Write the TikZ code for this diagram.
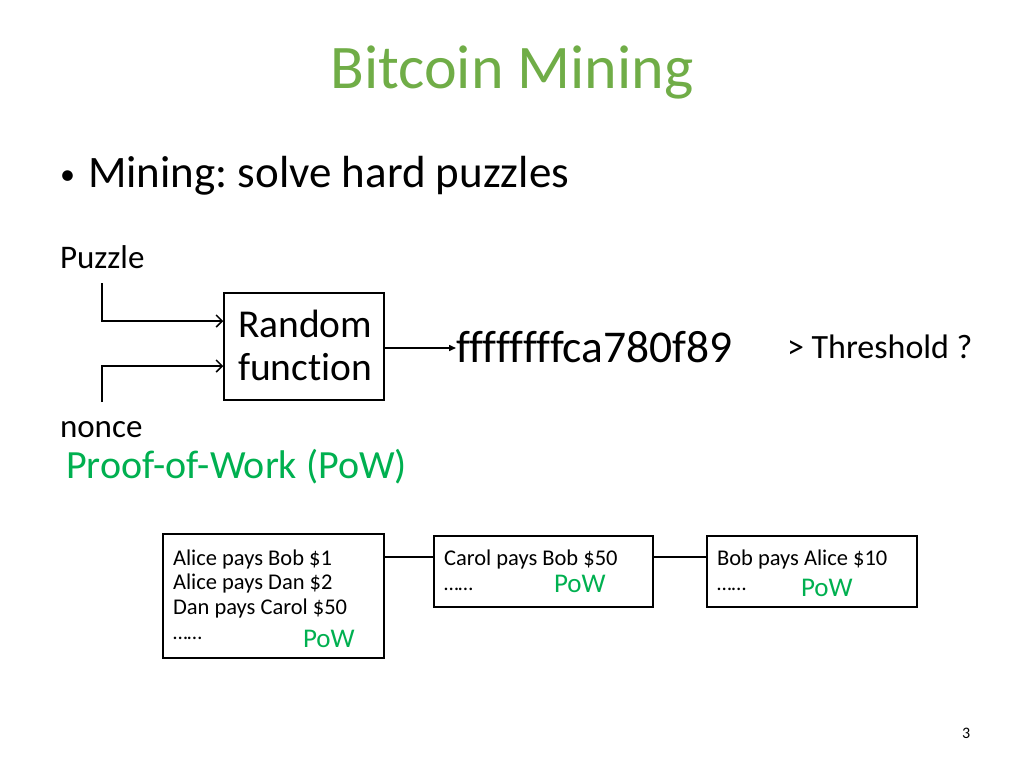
\documentclass[tikz,border=0pt]{standalone}
\usepackage{fontspec}
\setmainfont{Carlito}[Ligatures=NoCommon]
\usetikzlibrary{arrows.meta}
\definecolor{titlegreen}{RGB}{112,173,71}
\definecolor{powgreen}{RGB}{0,176,80}
\frenchspacing
\begin{document}
\begin{tikzpicture}[x=1pt,y=-1pt,
  txt/.style={anchor=base west,inner sep=0pt,outer sep=0pt},
  dots/.style={txt,text height=3pt,text depth=0pt,font=\fontsize{21}{21}\selectfont},
  blk/.style={draw,line width=1.5pt},
  ln/.style={line width=1.5pt},
  fs/.style={font=\fontsize{#1}{#1}\selectfont}]
\useasboundingbox[fill=white] (0,0) rectangle (1024,768);
\node[txt,anchor=base,fs=62,text=titlegreen] (title) at (512,88) {Bitcoin Mining};
\node[txt,fs=30] (bul) at (60,184) {\textbullet};
\node[txt,fs=45] (bt) at (88,187) {Mining: solve hard puzzles};
\node[txt,fs=33] (puz) at (60,268) {Puzzle};
\node[txt,fs=33] (non) at (60,437) {nonce};
\node[draw,line width=1.5pt,minimum width=160pt,minimum height=107pt,inner sep=0pt] (rf) at (304,346.5) {};
\node[txt,fs=39.5] (rf1) at (238,337) {Random};
\node[txt,fs=39.5] (rf2) at (238,380) {function};
\coordinate (pin) at (102,283);
\coordinate (nin) at (102,402);
\draw[ln,-{Straight Barb[length=6pt,width=12pt]}] (pin) |- (rf.west |- 0,321);
\draw[ln,-{Straight Barb[length=6pt,width=12pt]}] (nin) |- (rf.west |- 0,366);
\node[txt,fs=45.5] (hash) at (456,362) {ffffffffca780f89};
\draw[ln,-{Triangle[length=7pt,width=6pt]}] (rf.east |- 0,348) -- (hash.west |- 0,348);
\node[txt,fs=34] (thr) at (787,358) {> Threshold ?};
\node[txt,fs=40,text=powgreen] (pow) at (66,478) {Proof-of-Work (PoW)};
% blocks
\node[blk,anchor=north west,minimum width=221pt,minimum height=124pt,inner sep=0pt] (b1) at (162,533) {};
\node[blk,anchor=north west,minimum width=219pt,minimum height=71pt,inner sep=0pt] (b2) at (433,535) {};
\node[blk,anchor=north west,minimum width=210pt,minimum height=71pt,inner sep=0pt] (b3) at (706,535) {};
\draw[ln] (b1.east |- 0,557) -- (b2.west |- 0,557);
\draw[ln] (b2.east |- 0,557) -- (b3.west |- 0,557);
\node[txt,fs=22.5] (b1a) at (173,565) {Alice pays Bob \$1};
\node[txt,fs=22.5] (b1b) at (173,589) {Alice pays Dan \$2};
\node[txt,fs=22.5] (b1c) at (173,614) {Dan pays Carol \$50};
\node[dots] (b1d) at (173,639) {……};
\node[txt,fs=27,text=powgreen] (b1p) at (303,647) {PoW};
\node[txt,fs=22.5] (b2a) at (444,565) {Carol pays Bob \$50};
\node[dots] (b2d) at (444,590) {……};
\node[txt,fs=27,text=powgreen] (b2p) at (554,592) {PoW};
\node[txt,fs=22.5] (b3a) at (717,565) {Bob pays Alice \$10};
\node[dots] (b3d) at (717,590) {……};
\node[txt,fs=27,text=powgreen] (b3p) at (801,596) {PoW};
\node[txt,fs=16] (pg) at (962,738) {3};
\end{tikzpicture}
\end{document}
